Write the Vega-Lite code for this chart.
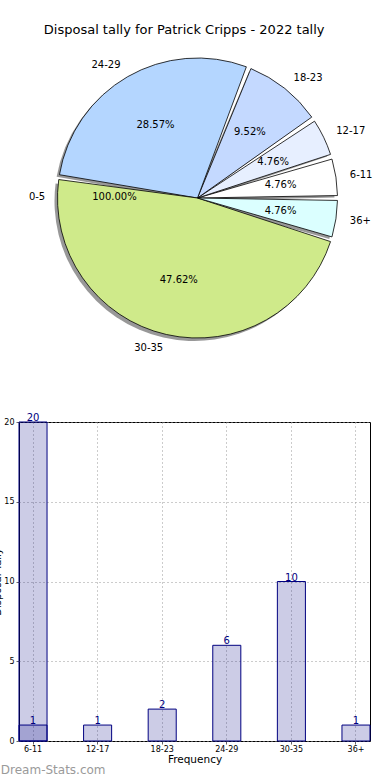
{
  "$schema": "https://vega.github.io/schema/vega-lite/v6.json",
  "padding": {"left": -8, "top": 24, "right": 0, "bottom": 0},
  "title": {"text": "Disposal tally for Patrick Cripps - 2022 tally", "fontSize": 13, "font": "DejaVu Sans", "fontWeight": "normal", "anchor": "middle", "offset": 11, "color": "black"},
  "config": {"font": "DejaVu Sans", "view": {"stroke": null}},
  "spacing": 58,
  "datasets": {
    "tally": [
      {"range": "6-11", "games": 1, "pct": "4.76%", "slot": 1},
      {"range": "12-17", "games": 1, "pct": "4.76%", "slot": 2},
      {"range": "18-23", "games": 2, "pct": "9.52%", "slot": 3},
      {"range": "24-29", "games": 6, "pct": "28.57%", "slot": 4},
      {"range": "0-5", "games": 0, "pct": "100.00%", "slot": 5},
      {"range": "30-35", "games": 10, "pct": "47.62%", "slot": 6},
      {"range": "36+", "games": 1, "pct": "4.76%", "slot": 7}
    ],
    "bars": [
      {"range": "6-11", "count": 20},
      {"range": "6-11", "count": 1},
      {"range": "12-17", "count": 1},
      {"range": "18-23", "count": 2},
      {"range": "24-29", "count": 6},
      {"range": "30-35", "count": 10},
      {"range": "36+", "count": 1}
    ]
  },
  "vconcat": [
    {
      "width": 357,
      "height": 300,
      "data": {"name": "tally"},
      "encoding": {
        "theta": {"field": "games", "type": "quantitative", "stack": true, "scale": {"range": [1.5708, -4.7124]}},
        "order": {"field": "slot", "type": "quantitative"}
      },
      "layer": [
        {
          "mark": {"type": "arc", "radius": 140, "padAngle": 0.05, "fill": "#444444", "opacity": {"expr": "datum.games == 0 ? 0 : 0.55"}, "xOffset": -3, "yOffset": 3}
        },
        {
          "mark": {"type": "arc", "radius": 140, "padAngle": 0.035, "stroke": "black", "strokeWidth": {"expr": "datum.games == 0 ? 0 : 0.8"}},
          "encoding": {
            "color": {"field": "range", "type": "nominal", "legend": null,
              "scale": {"domain": ["6-11", "12-17", "18-23", "24-29", "0-5", "30-35", "36+"],
                        "range": ["#ffffff", "#e7efff", "#c4d9ff", "#b4d6ff", "#ffffff", "#cfea8a", "#dbffff"]}}
          }
        },
        {
          "mark": {"type": "text", "radius": 84, "fontSize": 10, "color": "black", "dy": {"expr": "datum.range == '0-5' ? 12 : 0"}},
          "encoding": {"text": {"field": "pct"}}
        },
        {
          "mark": {"type": "text", "radius": 154, "fontSize": 10, "color": "black",
                   "align": {"expr": "indexof(['24-29', '30-35', '0-5'], datum.range) >= 0 ? 'right' : 'left'"},
                   "dy": {"expr": "datum.range == '0-5' ? 22 : 0"}},
          "encoding": {"text": {"field": "range"}}
        }
      ]
    },
    {
      "width": 351,
      "height": 319,
      "view": {"stroke": "black", "strokeWidth": 1},
      "data": {"name": "bars"},
      "encoding": {
        "x": {"field": "range", "type": "nominal",
          "sort": ["6-11", "12-17", "18-23", "24-29", "30-35", "36+"],
          "scale": {"paddingInner": 0.566, "paddingOuter": 0},
          "axis": {"title": "Frequency", "labelAngle": 0, "labelFontSize": 8, "titleFontSize": 10.5, "titleFontWeight": "normal",
                   "grid": true, "gridDash": [1, 3], "gridColor": "#999999", "bandPosition": 0.5, "domain": false,
                   "tickSize": 3, "tickColor": "#666666", "labelPadding": 1, "titlePadding": 1, "labelColor": "black", "titleColor": "black"}},
        "y": {"field": "count", "type": "quantitative", "stack": null,
          "scale": {"domain": [0, 20], "nice": false},
          "axis": {"title": "Disposal Tally", "values": [0, 5, 10, 15, 20], "labelFontSize": 8, "titleFontSize": 10, "titleFontWeight": "normal",
                   "grid": true, "gridDash": [1, 3], "gridColor": "#999999", "domain": false,
                   "tickSize": 3, "tickColor": "#666666", "labelPadding": 2, "titlePadding": 1, "labelColor": "black", "titleColor": "black"}}
      },
      "layer": [
        {"mark": {"type": "bar", "fill": "#000080", "fillOpacity": 0.2, "stroke": "#000080", "strokeWidth": 1}},
        {"mark": {"type": "text", "baseline": "bottom", "dy": 1, "fontSize": 10, "color": "#000080"},
         "encoding": {"text": {"field": "count", "type": "quantitative"}}}
      ],
      "title": {"text": "Dream-Stats.com", "orient": "bottom", "anchor": "start", "frame": "bounds", "dx": 8, "fontSize": 12, "color": "#9a9a9a", "fontWeight": "normal", "offset": 0}
    }
  ]
}
